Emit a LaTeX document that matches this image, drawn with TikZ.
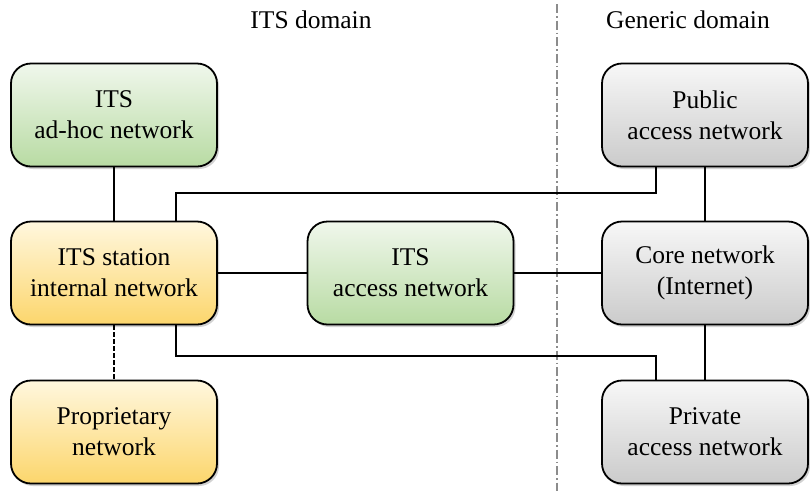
\documentclass[tikz,border=0pt]{standalone}
\usepackage{fontspec}
\setmainfont{Liberation Serif}
\usetikzlibrary{shadows}
\definecolor{gtop}{RGB}{240,247,236}
\definecolor{gbot}{RGB}{184,219,163}
\definecolor{ytop}{RGB}{255,247,222}
\definecolor{ybot}{RGB}{252,214,108}
\definecolor{ktop}{RGB}{247,247,247}
\definecolor{kbot}{RGB}{203,203,203}
\definecolor{sepline}{RGB}{140,140,140}
\tikzset{
  netbox/.style={draw=black, line width=1.8pt, rounded corners=20pt,
    minimum width=206pt, minimum height=103pt, align=center,
    font=\fontsize{25.5}{31}\selectfont, inner sep=2pt,
    drop shadow={shadow xshift=2pt, shadow yshift=-2.5pt, opacity=0.35}},
  greenbox/.style={netbox, top color=gtop, bottom color=gbot},
  yellowbox/.style={netbox, top color=ytop, bottom color=ybot},
  graybox/.style={netbox, top color=ktop, bottom color=kbot},
  link/.style={line width=1.3pt, black},
  domlabel/.style={font=\fontsize{25.5}{31}\selectfont, inner sep=0pt}
}
\begin{document}
\begin{tikzpicture}[x=1pt, y=-1pt]
\useasboundingbox (0,0) rectangle (810,491);
\fill[white] (0,0) rectangle (810,491);
% separator
\draw[sepline, line width=1.1pt, dash pattern=on 9pt off 3pt on 1.5pt off 3pt] (557,4) -- (557,491);
% domain labels
\node[domlabel] (itsdom) at (311,20) {ITS domain};
\node[domlabel] (gendom) at (688,20) {Generic domain};
% boxes
\node[greenbox] (adhoc) at (114,115) {ITS\\ad-hoc network};
\node[yellowbox] (station) at (114,273) {ITS station\\internal network};
\node[yellowbox] (prop) at (114,432) {Proprietary\\network};
\node[greenbox] (access) at (410.5,273) {ITS\\access network};
\node[graybox] (public) at (705,115) {Public\\access network};
\node[graybox] (core) at (705,273) {Core network\\(Internet)};
\node[graybox] (private) at (705,432) {Private\\access network};
% connector helper coordinates
\coordinate (upper) at (176,193);
\coordinate (lower) at (176,356);
\coordinate (rx) at (656,0);
% connectors
\draw[link] (adhoc) -- (station);
\draw[link, dash pattern=on 4.5pt off 2.5pt] (station) -- (prop);
\draw[link] (station) -- (access);
\draw[link] (access) -- (core);
\draw[link] (public) -- (core);
\draw[link] (core) -- (private);
\draw[link] (station.north -| upper) -- (upper) -| (public.south -| rx);
\draw[link] (station.south -| lower) -- (lower) -| (private.north -| rx);
\end{tikzpicture}
\end{document}
